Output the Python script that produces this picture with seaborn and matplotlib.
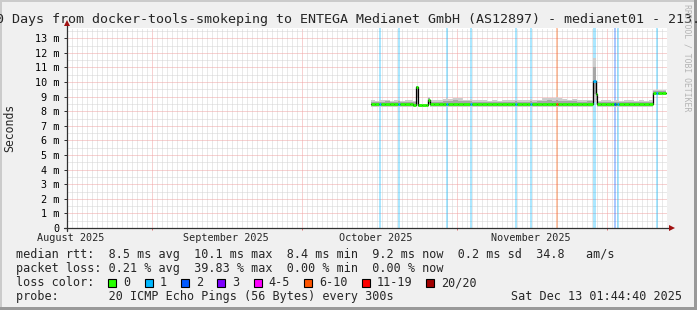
import numpy as np
import pandas as pd
import matplotlib
matplotlib.use("Agg")
import matplotlib.pyplot as plt
import matplotlib.dates as mdates
import matplotlib.transforms as mtransforms
from matplotlib.ticker import MultipleLocator, NullFormatter, FixedLocator
from matplotlib.patches import Rectangle
import seaborn as sns

# ---------------- data ----------------
graph_end = "2025-12-13 01:44:40"
graph_days = 120
title = ("120 Days from docker-tools-smokeping to ENTEGA Medianet GmbH "
         "(AS12897) - medianet01 - 213.")

# sample start, in days after the graph start
sample_day = [60.8, 61.6, 62.45, 62.8, 63.6, 64.5, 65.4, 66.25, 66.6, 67.5,
              68.5, 69.3, 69.85, 70.15, 71.0, 71.7, 72.25, 72.55, 73.4, 74.4,
              75.3, 75.85, 76.2, 77.2, 78.2, 79.3, 80.65, 81.0, 82.0, 83.0,
              84.0, 85.0, 86.0, 87.0, 88.0, 89.0, 89.65, 90.0, 91.0, 92.0,
              92.65, 93.0, 94.0, 95.0, 96.0, 97.0, 97.85, 98.2, 99.0, 100.0,
              101.0, 102.0, 103.0, 104.0, 105.2, 105.7, 105.9, 106.8, 107.8, 108.8,
              109.45, 109.8, 110.05, 110.4, 111.3, 112.3, 113.3, 114.3, 115.3, 116.3,
              117.2, 117.85, 118.2, 119.0]
data_end_day = 119.8

median_ms = [8.49, 8.47, 8.46, 8.48, 8.50, 8.48, 8.49, 8.47, 8.46, 8.48,
             8.47, 8.45, 9.65, 8.42, 8.40, 8.42, 8.80, 8.47, 8.49, 8.48,
             8.47, 8.48, 8.49, 8.47, 8.48, 8.47, 8.46, 8.48, 8.47, 8.49,
             8.47, 8.48, 8.46, 8.48, 8.47, 8.49, 8.47, 8.48, 8.46, 8.48,
             8.47, 8.49, 8.47, 8.48, 8.47, 8.48, 8.46, 8.48, 8.47, 8.49,
             8.47, 8.48, 8.46, 8.48, 10.10, 9.20, 8.46, 8.47, 8.48, 8.46,
             8.47, 8.48, 8.46, 8.47, 8.48, 8.46, 8.47, 8.48, 8.46, 8.47,
             9.27, 9.28, 9.27, 9.26]

smoke_lo_ms = [8.29, 8.28, 8.28, 8.29, 8.30, 8.28, 8.29, 8.28, 8.28, 8.29,
               8.28, 8.28, 8.45, 8.32, 8.31, 8.32, 8.45, 8.29, 8.29, 8.28,
               8.29, 8.28, 8.29, 8.28, 8.29, 8.28, 8.28, 8.29, 8.28, 8.29,
               8.28, 8.29, 8.28, 8.29, 8.28, 8.29, 8.28, 8.29, 8.28, 8.29,
               8.28, 8.29, 8.28, 8.29, 8.28, 8.29, 8.28, 8.29, 8.28, 8.29,
               8.28, 8.29, 8.28, 8.29, 8.60, 8.50, 8.28, 8.29, 8.28, 8.29,
               8.28, 8.29, 8.28, 8.29, 8.28, 8.29, 8.28, 8.29, 8.28, 8.29,
               9.12, 9.13, 9.12, 9.11]

smoke_hi_ms = [8.76, 8.72, 8.80, 8.74, 8.78, 8.73, 8.76, 8.80, 8.72, 8.75,
               8.74, 8.70, 9.75, 8.50, 8.48, 8.50, 8.95, 8.76, 8.78, 8.76,
               8.82, 8.90, 8.85, 8.92, 8.88, 8.80, 8.85, 8.78, 8.74, 8.76,
               8.73, 8.77, 8.72, 8.76, 8.75, 8.78, 8.80, 8.76, 8.74, 8.77,
               8.82, 8.78, 8.80, 8.88, 8.92, 8.90, 8.95, 8.88, 8.84, 8.80,
               8.82, 8.78, 8.76, 8.80, 11.65, 9.60, 8.72, 8.74, 8.76, 8.73,
               8.78, 8.74, 8.76, 8.72, 8.74, 8.76, 8.73, 8.75, 8.72, 8.74,
               9.48, 9.49, 9.47, 9.45]

lost_pings = [0, 0, 1, 0, 0, 0, 0, 1, 0, 0,
              0, 0, 0, 0, 0, 0, 0, 0, 0, 0,
              0, 1, 0, 0, 0, 0, 1, 0, 0, 0,
              0, 0, 0, 0, 0, 0, 1, 0, 0, 0,
              1, 0, 0, 0, 0, 0, 8, 0, 0, 0,
              0, 0, 0, 0, 1, 0, 0, 0, 0, 0,
              2, 0, 1, 0, 0, 0, 0, 0, 0, 0,
              0, 1, 0, 0]

loss_class_labels = ["0", "1", "2", "3", "4-5", "6-10", "11-19", "20/20"]
loss_class_upper = [0, 1, 2, 3, 5, 10, 19, 20]
loss_class_colors = ["#26ff00", "#00b8ff", "#0059ff", "#7e00ff",
                     "#ff00ff", "#ff5500", "#ff0000", "#a10000"]

month_labels = ["August 2025", "September 2025", "October 2025", "November 2025"]
month_label_dates = ["2025-08-15", "2025-09-15", "2025-10-15", "2025-11-15"]

ytick_values = [0, 1, 2, 3, 4, 5, 6, 7, 8, 9, 10, 11, 12, 13]
ytick_labels = ["0", "1 m", "2 m", "3 m", "4 m", "5 m", "6 m", "7 m",
                "8 m", "9 m", "10 m", "11 m", "12 m", "13 m"]
y_max = 13.7

median_stats = ["8.5 ms avg", "10.1 ms max", "8.4 ms min", "9.2 ms now",
                "0.2 ms sd", "34.8   am/s"]
loss_stats = ["0.21 % avg", "39.83 % max", "0.00 % min", "0.00 % now"]
probe_text = "20 ICMP Echo Pings (56 Bytes) every 300s"
stamp_text = "Sat Dec 13 01:44:40 2025"

# ---------------- style ----------------
sns.set_theme(style="white")
plt.rcParams["font.family"] = ["DejaVu Sans Mono", "DejaVu Sans"]

W, H = 697, 310
fig = plt.figure(figsize=(W / 100, H / 100), dpi=100, facecolor="#f0f0f0")
PL, PR, PT, PB = 67, 667, 28, 228
ax = fig.add_axes([PL / W, 1 - PB / H, (PR - PL) / W, (PB - PT) / H])
ax.set_facecolor("white")


def fx(x):
    return x / W


def fy(y):
    return 1 - y / H


start = pd.Timestamp(graph_end) - pd.Timedelta(days=graph_days)
end = pd.Timestamp(graph_end)
x0 = mdates.date2num(start.to_pydatetime())
x1 = mdates.date2num(end.to_pydatetime())

t = np.array([mdates.date2num((start + pd.Timedelta(days=d)).to_pydatetime())
              for d in sample_day])
t_end = mdates.date2num((start + pd.Timedelta(days=data_end_day)).to_pydatetime())
t_next = np.append(t[1:], t_end)
med = np.array(median_ms)
lo = np.array(smoke_lo_ms)
hi = np.array(smoke_hi_ms)


def loss_class(n):
    for i, u in enumerate(loss_class_upper):
        if n <= u:
            return i
    return len(loss_class_upper) - 1


cls = [loss_class(n) for n in lost_pings]

ax.xaxis_date()
ax.set_xlim(x0, x1)
ax.set_ylim(0, y_max)

# grid
ax.xaxis.set_major_locator(mdates.MonthLocator())
ax.xaxis.set_minor_locator(mdates.DayLocator())
ax.xaxis.set_major_formatter(NullFormatter())
ax.xaxis.set_minor_formatter(NullFormatter())
ax.yaxis.set_major_locator(FixedLocator(ytick_values))
ax.set_yticklabels(ytick_labels)
ax.yaxis.set_minor_locator(MultipleLocator(0.5))
ax.set_axisbelow(True)
ax.grid(which="minor", color="#d4d4d4", lw=0.72, ls=(0, (1, 1)))
ax.grid(which="major", color="#f0a4a4", lw=0.72, ls=(0, (1, 1)))

ax.tick_params(axis="y", which="major", length=2.5, width=0.72, color="#303030",
               direction="out", pad=3, labelsize=7.25, labelcolor="black", left=True)
ax.tick_params(axis="y", which="minor", length=0)
ax.tick_params(axis="x", which="major", length=1.6, width=0.72, color="#e07070",
               direction="out", bottom=True)
ax.tick_params(axis="x", which="minor", length=0)
for s in ax.spines.values():
    s.set_visible(False)

# loss background lines
for i, c in enumerate(cls):
    if c > 0:
        ax.axvspan(t[i], t_next[i], color=loss_class_colors[c], alpha=0.33,
                   lw=0, zorder=1.5)

# smoke
t_ext = np.append(t, t_end)
lo_ext = np.append(lo, lo[-1])
hi_ext = np.append(hi, hi[-1])
med_ext = np.append(med, med[-1])
ax.fill_between(t_ext, lo_ext, hi_ext, step="post", color="#cdcdcd", lw=0, zorder=2)
ax.fill_between(t_ext, med_ext - (med_ext - lo_ext) * 0.6,
                med_ext + (hi_ext - med_ext) * 0.6,
                step="post", color="#a6a6a6", lw=0, zorder=2.1)

# median: black step line + loss-coloured segments
df = pd.DataFrame({"t": t_ext, "median": med_ext})
sns.lineplot(data=df, x="t", y="median", ax=ax, color="black", lw=0.9,
             drawstyle="steps-post", estimator=None, sort=False, zorder=3)
ax.hlines(med, t, t_next, colors=[loss_class_colors[c] for c in cls],
          lw=2.0, zorder=4)
ax.set_xlabel("")
ax.set_ylabel("")
ax.set_xlim(x0, x1)
ax.set_ylim(0, y_max)

# axes with arrows
axis_col = "#303030"
ax.plot([-3 / 600, 1 + 4 / 600], [0, 0], color=axis_col, lw=0.9,
        transform=ax.transAxes, clip_on=False, zorder=6)
ax.plot([0, 0], [-3 / 200, 1 + 4 / 200], color=axis_col, lw=0.9,
        transform=ax.transAxes, clip_on=False, zorder=6)
ax.plot([1 + 5 / 600], [0], marker=">", ms=4.5, color="#a01010", mew=0,
        transform=ax.transAxes, clip_on=False, zorder=7)
ax.plot([0], [1 + 5 / 200], marker="^", ms=4.5, color="#a01010", mew=0,
        transform=ax.transAxes, clip_on=False, zorder=7)

# month labels (centered on the 15th)
lab_tr = mtransforms.offset_copy(ax.get_xaxis_transform(), fig=fig, x=4, y=-13,
                                 units="dots")
for d, lab in zip(month_label_dates, month_labels):
    ax.text(mdates.date2num(pd.Timestamp(d).to_pydatetime()), 0, lab,
            transform=lab_tr, ha="center", va="baseline", fontsize=7.25,
            clip_on=False)

# texts around the plot
fig.text(fx(-20), fy(23), title, ha="left", va="baseline", fontsize=9.6)
fig.text(fx(10), fy(128), "Seconds", rotation=90, ha="center", va="center",
         fontsize=8.3)
fig.text(fx(687.5), fy(4), "RRDTOOL / TOBI OETIKER", rotation=270,
         ha="center", va="top", fontsize=5.9, color="#b4b4b4")

LF = 8.5
CW = 7.1
fig.text(fx(16), fy(258), "median rtt:  " + "  ".join(median_stats),
         ha="left", va="baseline", fontsize=LF)
fig.text(fx(16), fy(272), "packet loss: " + "  ".join(loss_stats),
         ha="left", va="baseline", fontsize=LF)
fig.text(fx(16), fy(286), "loss color:", ha="left", va="baseline", fontsize=LF)
bx = 108.3
for lab, col in zip(loss_class_labels, loss_class_colors):
    fig.patches.append(Rectangle((fx(bx), fy(287)), 8 / W, 8 / H,
                                 transform=fig.transFigure, facecolor=col,
                                 edgecolor="black", lw=0.8))
    fig.text(fx(bx + 15), fy(286), lab, ha="left", va="baseline", fontsize=LF)
    bx = bx + 15 + (len(lab) + 2) * CW
fig.text(fx(16), fy(300), "probe:       " + probe_text, ha="left",
         va="baseline", fontsize=LF)
fig.text(fx(682), fy(300), stamp_text, ha="right", va="baseline", fontsize=LF)

# 3D frame
fig.patches.append(Rectangle((0, 1 - 2 / H), 1, 2 / H, transform=fig.transFigure,
                             facecolor="#cbcbcb", lw=0))
fig.patches.append(Rectangle((0, 0), 2 / W, 1, transform=fig.transFigure,
                             facecolor="#cbcbcb", lw=0))
fig.patches.append(Rectangle((0, 0), 1, 3 / H, transform=fig.transFigure,
                             facecolor="#999999", lw=0))
fig.patches.append(Rectangle((1 - 3 / W, 0), 3 / W, 1, transform=fig.transFigure,
                             facecolor="#999999", lw=0))

fig.savefig("out.png", dpi=100, facecolor=fig.get_facecolor())
